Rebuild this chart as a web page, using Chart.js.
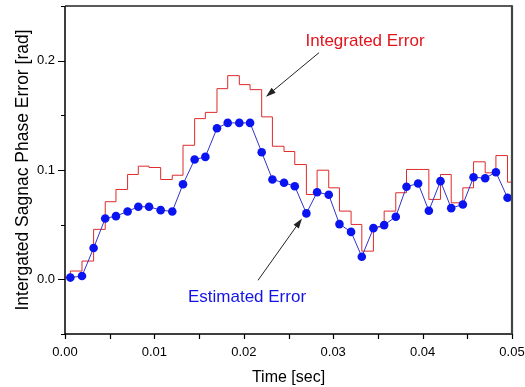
<!DOCTYPE html>
<html><head><meta charset="utf-8">
<script src="https://cdn.jsdelivr.net/npm/chart.js@4/dist/chart.umd.min.js"></script>
<style>html,body{margin:0;padding:0;background:#fff;}#c{display:block;}</style>
</head><body>
<canvas id="c" width="525" height="387"></canvas>
<script>
// ---- data ----
const estimatedTime = [0.0006,0.0019,0.0032,0.0045,0.0057,0.0070,0.0082,0.0094,0.0107,0.0120,0.0132,0.0145,0.0157,0.0170,0.0182,0.0195,0.0207,0.0220,0.0232,0.0245,0.0257,0.0270,0.0282,0.0295,0.0307,0.0320,0.0332,0.0345,0.0357,0.0370,0.0382,0.0395,0.0407,0.0420,0.0432,0.0445,0.0457,0.0470,0.0482,0.0495];
const estimatedError = [0.0016,0.0030,0.0286,0.0557,0.0578,0.0621,0.0664,0.0664,0.0633,0.0621,0.0870,0.1096,0.1120,0.1382,0.1431,0.1431,0.1431,0.1163,0.0913,0.0883,0.0852,0.0603,0.0797,0.0774,0.0505,0.0434,0.0207,0.0468,0.0496,0.0573,0.0847,0.0877,0.0627,0.0898,0.0651,0.0685,0.0934,0.0925,0.0980,0.0746];
const integratedTime = [0,0.0006,0.0019,0.0032,0.0045,0.0057,0.0070,0.0082,0.0094,0.0107,0.0120,0.0132,0.0145,0.0157,0.0170,0.0182,0.0195,0.0207,0.0220,0.0232,0.0245,0.0257,0.0270,0.0282,0.0295,0.0307,0.0320,0.0332,0.0345,0.0357,0.0370,0.0382,0.0395,0.0407,0.0420,0.0432,0.0445,0.0457,0.0470,0.0482,0.0495,0.0500];
const integratedError = [0.0018,0.0076,0.0167,0.0457,0.0710,0.0822,0.0959,0.1035,0.1023,0.0913,0.0952,0.1226,0.1470,0.1527,0.1744,0.1863,0.1781,0.1735,0.1486,0.1217,0.1169,0.1050,0.0776,0.0998,0.0837,0.0624,0.0502,0.0258,0.0478,0.0624,0.0792,0.1005,0.1005,0.0731,0.0959,0.0700,0.0837,0.1075,0.0974,0.1132,0.0889,0.0889];
const xTickLabels = ['0.00','0.01','0.02','0.03','0.04','0.05'];
const yTickLabels = ['0.0','0.1','0.2'];
const xTickValues = [0,0.01,0.02,0.03,0.04,0.05];
const yTickValues = [0,0.1,0.2];

const FONT = "'Liberation Sans', Arial, sans-serif";

const toPts = (xs, ys) => xs.map((x, i) => ({x: x, y: ys[i]}));

function arrow(ctx, x1, y1, x2, y2) {
  const ang = Math.atan2(y2 - y1, x2 - x1);
  const L = 10, W = 3.2;
  ctx.beginPath();
  ctx.moveTo(x1, y1);
  ctx.lineTo(x2 - Math.cos(ang) * L * 0.8, y2 - Math.sin(ang) * L * 0.8);
  ctx.stroke();
  ctx.beginPath();
  ctx.moveTo(x2, y2);
  ctx.lineTo(x2 - Math.cos(ang) * L - Math.sin(ang) * W, y2 - Math.sin(ang) * L + Math.cos(ang) * W);
  ctx.lineTo(x2 - Math.cos(ang) * L + Math.sin(ang) * W, y2 - Math.sin(ang) * L - Math.cos(ang) * W);
  ctx.closePath();
  ctx.fill();
}

function noPad(s) { s.paddingLeft = 0; s.paddingRight = 0; s.paddingTop = 0; s.paddingBottom = 0; }

const decor = {
  id: 'decor',
  afterDraw(chart) {
    const {ctx, chartArea: a, scales: {x, y}} = chart;
    ctx.save();
    // frame
    ctx.strokeStyle = '#000';
    ctx.lineWidth = 1.5;
    ctx.beginPath();
    ctx.moveTo(a.left, a.top); ctx.lineTo(a.left, a.bottom); ctx.lineTo(a.right, a.bottom);
    ctx.stroke();
    ctx.strokeStyle = '#222';
    ctx.lineWidth = 1.5;
    ctx.beginPath();
    ctx.moveTo(a.left, a.top); ctx.lineTo(a.right, a.top);
    ctx.stroke();
    ctx.strokeStyle = '#444';
    ctx.lineWidth = 2.2;
    ctx.beginPath();
    ctx.moveTo(a.right, a.top - 0.7); ctx.lineTo(a.right, a.bottom);
    ctx.stroke();
    // ticks
    ctx.strokeStyle = '#000';
    ctx.lineWidth = 1.2;
    ctx.beginPath();
    for (let k = 0; k <= 10; k++) {
      const px = Math.round(x.getPixelForValue(k * 0.005)) + 0.5;
      ctx.moveTo(px, a.bottom); ctx.lineTo(px, a.bottom + 5);
    }
    for (let k = -1; k <= 5; k++) {
      const py = Math.round(y.getPixelForValue(k * 0.05)) + 0.5;
      const len = (k % 2 === 0) ? 7 : 4;
      ctx.moveTo(a.left, py); ctx.lineTo(a.left - len, py);
    }
    ctx.stroke();
    // annotations
    ctx.font = '17px ' + FONT;
    ctx.textAlign = 'center';
    ctx.textBaseline = 'middle';
    ctx.fillStyle = '#e3141c';
    ctx.fillText('Integrated Error', x.getPixelForValue(0.03356), y.getPixelForValue(0.2175));
    ctx.fillStyle = '#1414e6';
    ctx.fillText('Estimated Error', x.getPixelForValue(0.02036), y.getPixelForValue(-0.0165));
    ctx.strokeStyle = '#222';
    ctx.fillStyle = '#222';
    ctx.lineWidth = 1;
    arrow(ctx, x.getPixelForValue(0.02841), y.getPixelForValue(0.2073), x.getPixelForValue(0.02248), y.getPixelForValue(0.1671));
    arrow(ctx, x.getPixelForValue(0.02159), y.getPixelForValue(-0.0009), x.getPixelForValue(0.02651), y.getPixelForValue(0.0557));
    ctx.restore();
  }
};

new Chart(document.getElementById('c'), {
  type: 'line',
  data: {
    datasets: [
      {
        label: 'Estimated Error',
        data: toPts(estimatedTime, estimatedError),
        borderColor: '#3232c8',
        borderWidth: 1,
        pointRadius: 4.3,
        pointBackgroundColor: '#0a14f0',
        pointBorderWidth: 0,
        pointBorderColor: '#0a14f0',
        order: 0
      },
      {
        label: 'Integrated Error',
        data: toPts(integratedTime, integratedError),
        borderColor: '#e02a2a',
        borderWidth: 1,
        pointRadius: 0,
        stepped: true,
        order: 1
      }
    ]
  },
  options: {
    responsive: false,
    animation: false,
    devicePixelRatio: 1,
    layout: {padding: {left: 0, right: 13, top: 6, bottom: 0}},
    plugins: {legend: {display: false}, tooltip: {enabled: false}},
    scales: {
      x: {
        type: 'linear', min: 0, max: 0.05,
        afterFit(s) { s.height = 53; noPad(s); },
        afterBuildTicks(s) { s.ticks = xTickValues.map(v => ({value: v})); },
        grid: {display: false, drawTicks: false, tickLength: 0},
        border: {display: false},
        ticks: {
          padding: 11, color: '#000', font: {family: FONT, size: 13}, maxRotation: 0,
          callback: (v) => { const i = xTickValues.findIndex(t => Math.abs(t - v) < 1e-9); return i >= 0 ? xTickLabels[i] : ''; }
        },
        title: {display: true, text: 'Time [sec]', color: '#000', font: {family: FONT, size: 16}, padding: {top: 0, bottom: 0}}
      },
      y: {
        type: 'linear', min: -0.05, max: 0.25,
        afterFit(s) { s.width = 65; noPad(s); },
        afterBuildTicks(s) { s.ticks = yTickValues.map(v => ({value: v})); },
        grid: {display: false, drawTicks: false, tickLength: 0},
        border: {display: false},
        ticks: {
          padding: 10, color: '#000', font: {family: FONT, size: 13},
          callback: (v) => { const i = yTickValues.findIndex(t => Math.abs(t - v) < 1e-9); return i >= 0 ? yTickLabels[i] : ''; }
        },
        title: {display: true, text: 'Intergated Sagnac Phase Error [rad]', color: '#000', font: {family: FONT, size: 17.5}, padding: {top: 12.5, bottom: 0}}
      }
    }
  },
  plugins: [decor]
});
</script>
</body></html>
